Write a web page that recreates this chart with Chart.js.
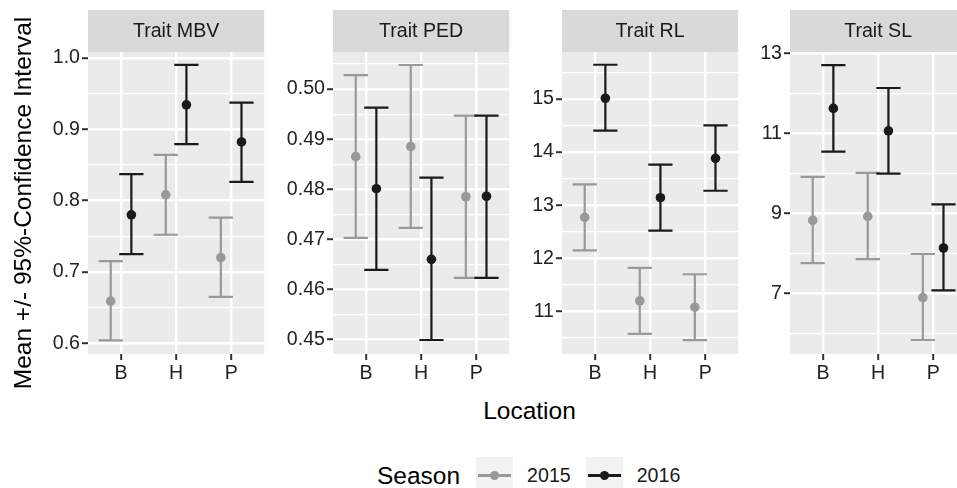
<!DOCTYPE html>
<html>
<head>
<meta charset="utf-8">
<script src="https://cdn.jsdelivr.net/npm/chart.js@4.4.1/dist/chart.umd.min.js"></script>
<style>
  html, body { margin: 0; padding: 0; background: #fff; overflow: hidden; }
  #wrap { position: relative; width: 1000px; height: 488px; font-family: 'Liberation Sans', Arial, sans-serif; }
  .panel { position: absolute; top: 0; height: 390px; }
  #xtitle { position: absolute; left: 88px; width: 883px; top: 396px; line-height: 30px; text-align: center; font-size: 24.5px; color: #000; }
  #legend { position: absolute; left: 377px; top: 457px; height: 37px; display: flex; align-items: center; }
  #legend .ttl { font-size: 24.5px; color: #000; margin-right: 16px; }
  #legend .key { position: relative; width: 37px; height: 37px; background: #f2f2f2; margin-right: 14px; }
  #legend .key .ln { position: absolute; left: 2px; right: 2px; top: 17.4px; height: 2.2px; }
  #legend .key .dot { position: absolute; left: 13.8px; top: 13.8px; width: 9.4px; height: 9.4px; border-radius: 50%; }
  #legend .lab { font-size: 19.6px; color: #1a1a1a; margin-right: 15px; }
</style>
</head>
<body>
<div id="wrap">
  <div id="xtitle">Location</div>
  <div id="legend"></div>
</div>
<script>
const FONT = "'Liberation Sans', Arial, sans-serif";

const locations = ['B', 'H', 'P'];
const seasons = ['2015', '2016'];
const traits = ['Trait MBV', 'Trait PED', 'Trait RL', 'Trait SL'];
const seasonColors = ['#999999', '#1a1a1a'];

// rows: 2015, 2016 ; columns: B, H, P
const mbvMean = [[0.659, 0.808, 0.720], [0.780, 0.934, 0.882]];
const mbvLow  = [[0.604, 0.752, 0.665], [0.725, 0.879, 0.826]];
const mbvHigh = [[0.715, 0.864, 0.776], [0.837, 0.990, 0.937]];

const pedMean = [[0.4865, 0.4885, 0.4785], [0.4801, 0.4660, 0.4786]];
const pedLow  = [[0.4703, 0.4723, 0.4623], [0.4639, 0.4499, 0.4623]];
const pedHigh = [[0.5028, 0.5048, 0.4947], [0.4963, 0.4823, 0.4947]];

const rlMean = [[12.77, 11.20, 11.08], [15.01, 13.14, 13.88]];
const rlLow  = [[12.15, 10.58, 10.46], [14.40, 12.52, 13.27]];
const rlHigh = [[13.39, 11.82, 11.70], [15.64, 13.76, 14.50]];

const slMean = [[8.82, 8.92, 6.89], [11.62, 11.06, 8.13]];
const slLow  = [[7.75, 7.85, 5.83], [10.54, 9.99, 7.07]];
const slHigh = [[9.91, 10.01, 7.98], [12.70, 12.13, 9.22]];

const yMin = [0.585, 0.4471, 10.20, 5.48];
const yMax = [1.008, 0.5074, 15.88, 13.03];
const majorTicks = [
  [0.6, 0.7, 0.8, 0.9, 1.0],
  [0.45, 0.46, 0.47, 0.48, 0.49, 0.50],
  [11, 12, 13, 14, 15],
  [7, 9, 11, 13]
];
const minorTicks = [
  [0.65, 0.75, 0.85, 0.95],
  [0.455, 0.465, 0.475, 0.485, 0.495, 0.505],
  [10.5, 11.5, 12.5, 13.5, 14.5, 15.5],
  [6, 8, 10, 12]
];
const tickDecimals = [1, 2, 0, 0];

const allMean = [mbvMean, pedMean, rlMean, slMean];
const allLow = [mbvLow, pedLow, rlLow, slLow];
const allHigh = [mbvHigh, pedHigh, rlHigh, slHigh];

// layout of the four facets
const canvasLeft = [0, 273, 514, 743];
const axisWidth = [88, 60, 48, 47];
const plotWidth = 181;
const dodge = 0.1875;
const capHalf = 0.22;

const facetPlugin = {
  id: 'facet',
  beforeDraw(chart, args, opts) {
    const {ctx, chartArea: a} = chart;
    ctx.save();
    ctx.fillStyle = '#ebebeb';
    ctx.fillRect(a.left, a.top, a.right - a.left, a.bottom - a.top);
    ctx.fillStyle = '#d9d9d9';
    ctx.fillRect(a.left, 10, a.right - a.left, a.top - 10);
    ctx.fillStyle = '#1a1a1a';
    ctx.font = '19.6px ' + FONT;
    ctx.textAlign = 'center';
    ctx.textBaseline = 'middle';
    ctx.fillText(opts.text, (a.left + a.right) / 2, 32);
    ctx.restore();
  }
};

const errorBars = {
  id: 'errorBars',
  beforeDatasetsDraw(chart) {
    const {ctx, scales: {x, y}} = chart;
    ctx.save();
    ctx.lineWidth = 2.2;
    chart.data.datasets.forEach(ds => {
      ctx.strokeStyle = ds.borderColor;
      ds.data.forEach(d => {
        const px = x.getPixelForValue(d.x);
        const x0 = x.getPixelForValue(d.x - capHalf);
        const x1 = x.getPixelForValue(d.x + capHalf);
        const yl = y.getPixelForValue(d.lo);
        const yh = y.getPixelForValue(d.hi);
        ctx.beginPath();
        ctx.moveTo(px, yl); ctx.lineTo(px, yh);
        ctx.moveTo(x0, yl); ctx.lineTo(x1, yl);
        ctx.moveTo(x0, yh); ctx.lineTo(x1, yh);
        ctx.stroke();
      });
    });
    ctx.restore();
  }
};

function makePanel(i) {
  const box = document.createElement('div');
  box.className = 'panel';
  box.style.left = canvasLeft[i] + 'px';
  box.style.width = (axisWidth[i] + plotWidth) + 'px';
  const canvas = document.createElement('canvas');
  box.appendChild(canvas);
  document.getElementById('wrap').appendChild(box);

  const datasets = seasons.map((s, k) => ({
    label: s,
    data: locations.map((loc, j) => ({
      x: j + 1 + (k === 0 ? -dodge : dodge),
      y: allMean[i][k][j],
      lo: allLow[i][k][j],
      hi: allHigh[i][k][j]
    })),
    backgroundColor: seasonColors[k],
    borderColor: seasonColors[k],
    pointRadius: 4.8,
    pointBorderWidth: 0,
    showLine: false
  }));

  new Chart(canvas, {
    type: 'scatter',
    data: { datasets: datasets },
    plugins: [facetPlugin, errorBars],
    options: {
      responsive: true,
      maintainAspectRatio: false,
      animation: false,
      events: [],
      layout: { padding: { top: 52, left: 0, right: 0, bottom: 0 } },
      plugins: {
        legend: { display: false },
        tooltip: { enabled: false },
        facet: { text: traits[i] }
      },
      scales: {
        x: {
          type: 'linear',
          min: 0.4,
          max: 3.6,
          afterBuildTicks: s => { s.ticks = locations.map((l, j) => ({ value: j + 1 })); },
          afterFit: s => { s.height = 36; },
          ticks: {
            callback: v => locations[Math.round(v) - 1],
            color: '#222',
            font: { size: 19.6, family: FONT },
            padding: 2,
            autoSkip: false,
            maxRotation: 0
          },
          grid: { color: '#ffffff', lineWidth: 2.4, tickLength: 6, tickColor: '#333', tickWidth: 2 },
          border: { display: false }
        },
        y: {
          min: yMin[i],
          max: yMax[i],
          afterBuildTicks: s => {
            const t = majorTicks[i].map(v => ({ value: v }))
              .concat(minorTicks[i].map(v => ({ value: v, minorLine: true })));
            t.sort((a, b) => a.value - b.value);
            s.ticks = t;
          },
          afterFit: s => { s.width = axisWidth[i]; },
          ticks: {
            callback: (v, idx, ticks) => ticks[idx].minorLine ? '' : v.toFixed(tickDecimals[i]),
            color: '#222',
            font: { size: 19.6, family: FONT },
            padding: 2,
            autoSkip: false
          },
          grid: {
            color: '#ffffff',
            lineWidth: c => (c.tick && c.tick.minorLine) ? 1.2 : 2.4,
            tickLength: 6,
            tickColor: c => (c.tick && c.tick.minorLine) ? 'rgba(0,0,0,0)' : '#333',
            tickWidth: 2
          },
          border: { display: false },
          title: {
            display: i === 0,
            text: 'Mean +/- 95%-Confidence Interval',
            color: '#000',
            font: { size: 24.5, family: FONT },
            padding: { top: 10, bottom: 0 }
          }
        }
      }
    }
  });
}

traits.forEach((t, i) => makePanel(i));

// legend
const legend = document.getElementById('legend');
const ttl = document.createElement('span');
ttl.className = 'ttl';
ttl.textContent = 'Season';
legend.appendChild(ttl);
seasons.forEach((s, k) => {
  const key = document.createElement('div');
  key.className = 'key';
  key.innerHTML = '<i class="ln" style="background:' + seasonColors[k] + '"></i>' +
                  '<i class="dot" style="background:' + seasonColors[k] + '"></i>';
  legend.appendChild(key);
  const lab = document.createElement('span');
  lab.className = 'lab';
  lab.textContent = s;
  legend.appendChild(lab);
});
</script>
</body>
</html>
